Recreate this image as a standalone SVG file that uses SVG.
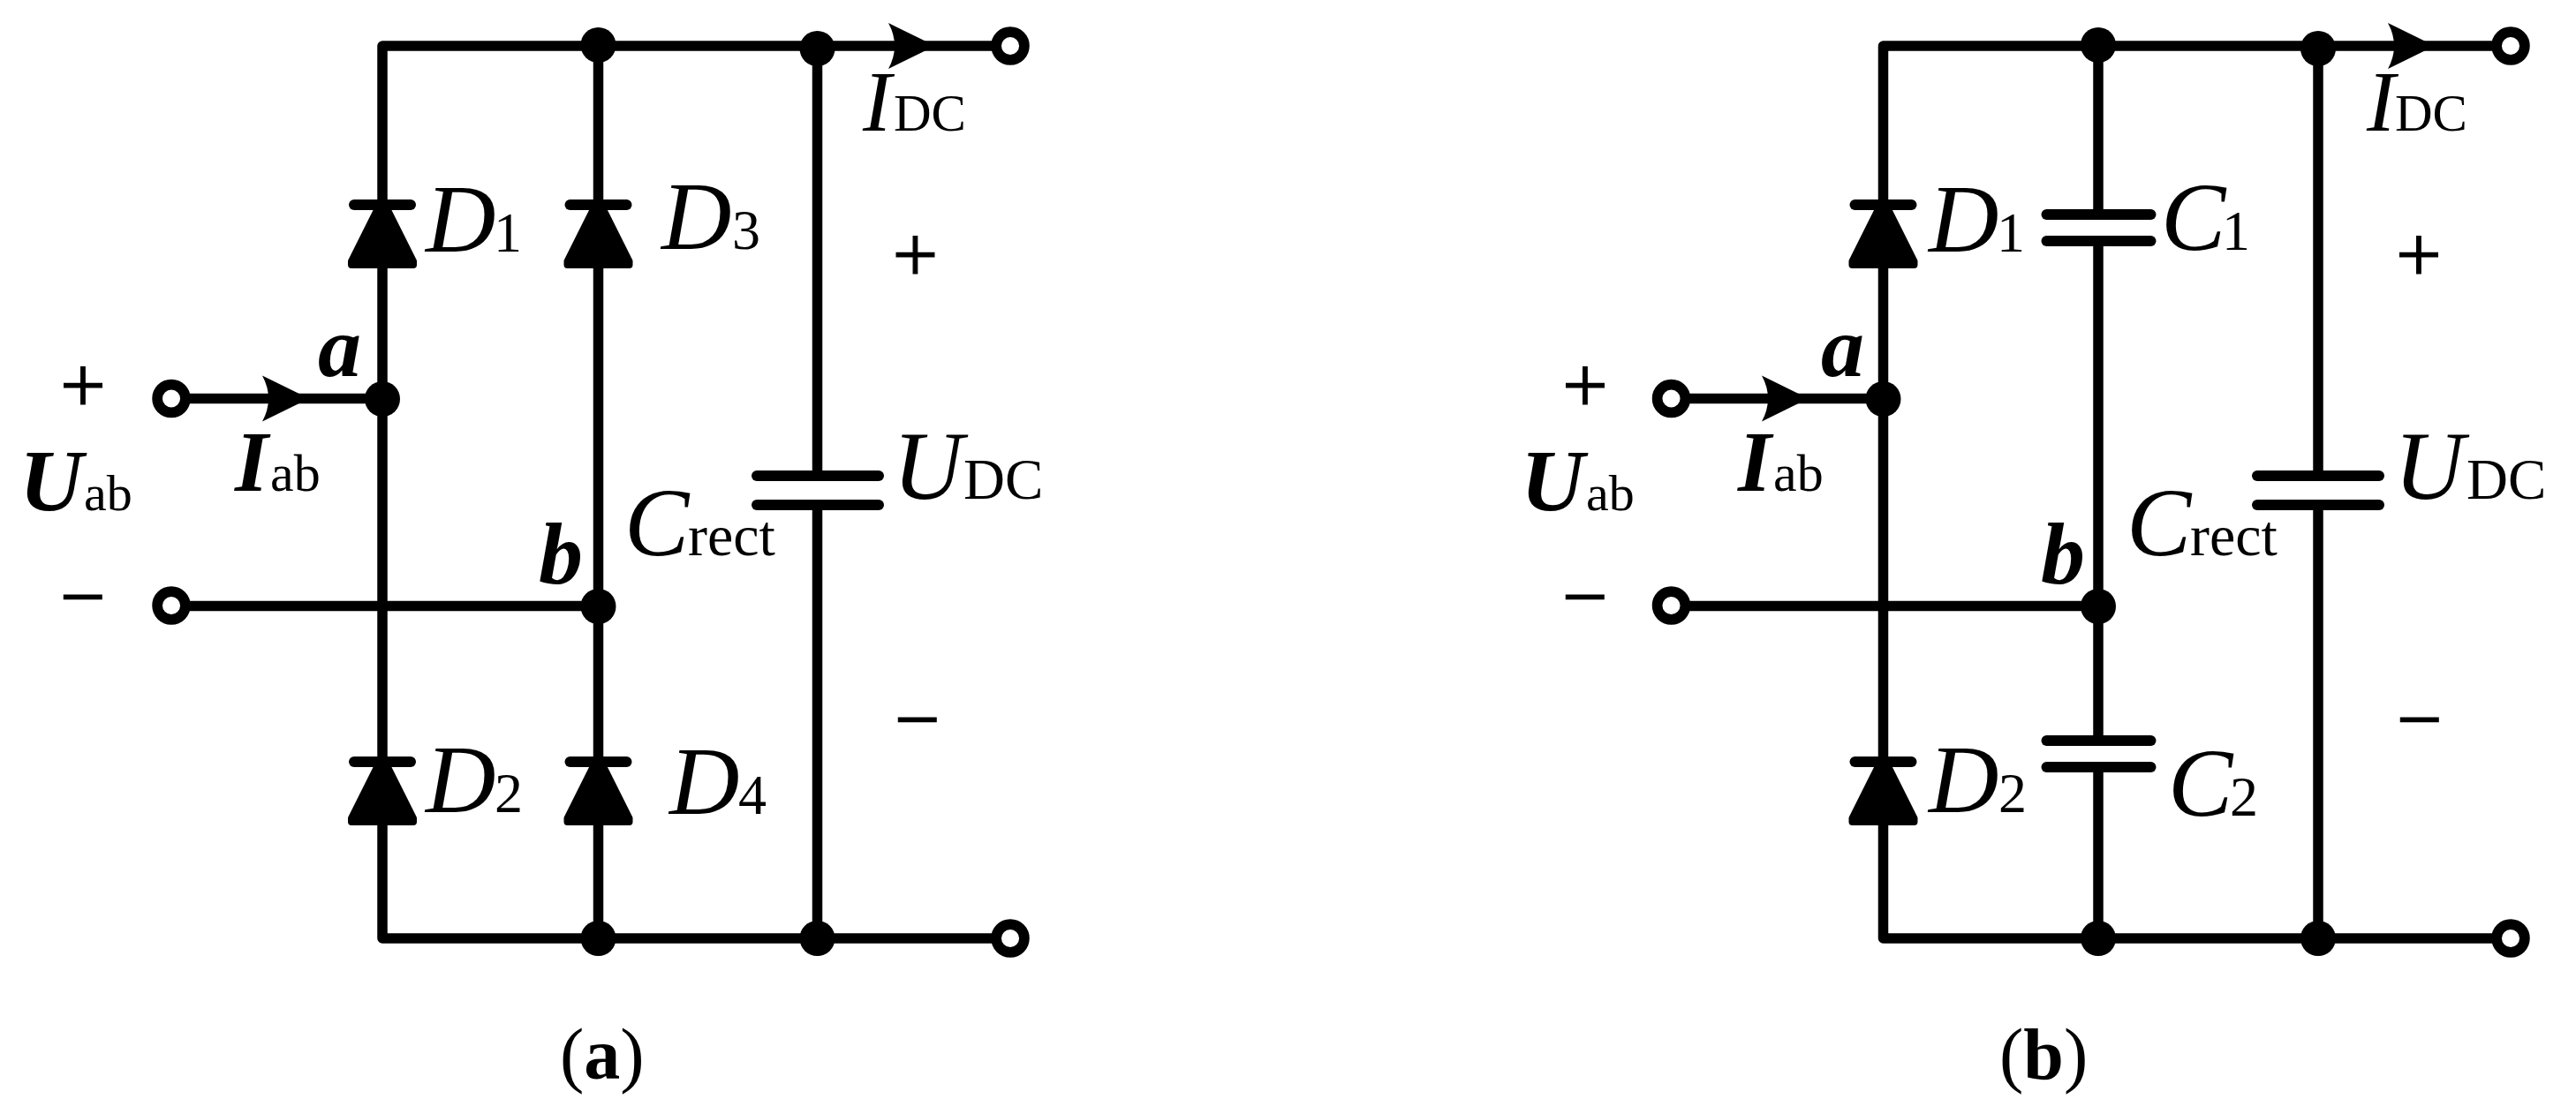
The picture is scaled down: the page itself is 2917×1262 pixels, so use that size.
<svg xmlns="http://www.w3.org/2000/svg" xmlns:xlink="http://www.w3.org/1999/xlink" width="2917" height="1262" viewBox="0 0 2917 1262">
<style>
.w{fill:none;stroke:#000;stroke-width:11.5;stroke-linejoin:round}
.t{font-family:"Liberation Serif","Times New Roman",serif;fill:#000}
.i{font-style:italic;font-size:110px}
.ib{font-style:italic;font-weight:bold}
.s{font-size:64px;font-style:normal}
.sg{font-size:92px;stroke:#000;stroke-width:1.2px}
.cap{font-size:82px}
.dot{fill:#000}
.term{fill:#fff;stroke:#000;stroke-width:11.7}
</style>
<defs>
<g id="diode"><rect x="-38" y="-6" width="76" height="12" rx="6" fill="#000"/><path d="M-6 6 L6 6 L35 64 V68 H-35 V64 Z" fill="#000" stroke="#000" stroke-width="8" stroke-linejoin="round"/></g>
<path id="arrow" d="M0 0 L-53 -26 Q-39 0 -53 26 Z" fill="#000"/>
<rect id="capbar" x="-75" y="-6" width="150" height="12" rx="6" fill="#000"/>
<rect id="capbar2" x="-65" y="-6" width="130" height="12" rx="6" fill="#000"/>
</defs>
<rect width="2917" height="1262" fill="#fff"/>
<g id="connectors">
<path class="w" d="M194 451.500H433M1144 1063H433V52H1144M194 686.500H677.500M677.500 52V1063M925.500 52V539M925.500 572V1063"/>
<use xlink:href="#arrow" href="#arrow" x="350" y="451.500"/>
<use xlink:href="#arrow" href="#arrow" x="1059" y="52"/>
<path class="w" d="M1892.500 451.500H2132.500M2843 1063H2132.500V52H2843M1892.500 686.500H2376M2376 52V243M2376 273V839M2376 869V1063M2625 52V539M2625 572V1063"/>
<use xlink:href="#arrow" href="#arrow" x="2048" y="451.500"/>
<use xlink:href="#arrow" href="#arrow" x="2757" y="52"/>
</g>
<g id="panel-a">
<g id="a-D1"><use xlink:href="#diode" href="#diode" x="433" y="232"/><text class="t i" x="482" y="285">D<tspan class="s" x="559">1</tspan></text></g>
<g id="a-D3"><use xlink:href="#diode" href="#diode" x="677.500" y="232"/><text class="t i" x="749" y="282">D<tspan class="s" x="829">3</tspan></text></g>
<g id="a-D2"><use xlink:href="#diode" href="#diode" x="433" y="863"/><text class="t i" x="482" y="920">D<tspan class="s" x="560">2</tspan></text></g>
<g id="a-D4"><use xlink:href="#diode" href="#diode" x="677.500" y="863"/><text class="t i" x="758" y="922">D<tspan class="s" x="836">4</tspan></text></g>
<g id="a-Crect"><use xlink:href="#capbar" href="#capbar" x="926" y="539"/><use xlink:href="#capbar" href="#capbar" x="926" y="572"/><text class="t i" x="707" y="629">C<tspan font-size="66" font-style="normal" x="779">rect</tspan></text></g>
<g id="a-junctions"><circle class="dot" cx="677.500" cy="51" r="20"/><circle class="dot" cx="925.500" cy="55" r="20"/><circle class="dot" cx="433" cy="452" r="20"/><circle class="dot" cx="677.500" cy="687" r="20"/><circle class="dot" cx="677.500" cy="1063" r="20"/><circle class="dot" cx="925.500" cy="1063" r="20"/></g>
<g id="a-terminals"><circle class="term" cx="194" cy="451.500" r="15.900"/><circle class="term" cx="194" cy="686" r="15.900"/><circle class="term" cx="1144" cy="52" r="15.900"/><circle class="term" cx="1144" cy="1063" r="15.900"/></g>
<g id="a-labels">
<text class="t" font-style="italic" font-size="97" x="977" y="148">I</text><text class="t" font-size="59" x="1012" y="148">DC</text>
<text class="t" font-style="italic" font-size="110" x="1011" y="565">U</text><text class="t" font-size="65" x="1091" y="565">DC</text>
<text class="t ib" font-size="100" x="22" y="578">U</text><text class="t" font-size="58" x="95" y="578">ab</text>
<text class="t ib" font-size="97" x="266" y="556">I</text><text class="t" font-size="60" x="306" y="556">ab</text>
<text class="t ib" font-size="98" x="360" y="426">a</text><text class="t ib" font-size="100" x="610" y="661">b</text>
<text class="t sg" text-anchor="middle" x="94" y="467">+</text><text class="t sg" text-anchor="middle" x="94" y="707">−</text>
<text class="t sg" text-anchor="middle" x="1036.500" y="319">+</text><text class="t sg" text-anchor="middle" x="1039" y="846">−</text>
<text class="t cap" x="634" y="1222">(<tspan font-weight="bold">a</tspan>)</text>
</g>
</g>
<g id="panel-b">
<g id="b-D1"><use xlink:href="#diode" href="#diode" x="2132.500" y="232"/><text class="t i" x="2184" y="285">D<tspan class="s" x="2261">1</tspan></text></g>
<g id="b-D2"><use xlink:href="#diode" href="#diode" x="2132.500" y="863"/><text class="t i" x="2184" y="920">D<tspan class="s" x="2263">2</tspan></text></g>
<g id="b-C1"><use xlink:href="#capbar2" href="#capbar2" x="2376.500" y="243"/><use xlink:href="#capbar2" href="#capbar2" x="2376.500" y="273"/><text class="t i" x="2447" y="283">C<tspan class="s" x="2516">1</tspan></text></g>
<g id="b-C2"><use xlink:href="#capbar2" href="#capbar2" x="2376.500" y="839"/><use xlink:href="#capbar2" href="#capbar2" x="2376.500" y="869"/><text class="t i" x="2455" y="924">C<tspan class="s" x="2525">2</tspan></text></g>
<g id="b-Crect"><use xlink:href="#capbar" href="#capbar" x="2625" y="539"/><use xlink:href="#capbar" href="#capbar" x="2625" y="572"/><text class="t i" x="2408" y="629">C<tspan font-size="66" font-style="normal" x="2480">rect</tspan></text></g>
<g id="b-junctions"><circle class="dot" cx="2376" cy="51" r="20"/><circle class="dot" cx="2625" cy="55" r="20"/><circle class="dot" cx="2132.500" cy="452" r="20"/><circle class="dot" cx="2376" cy="687" r="20"/><circle class="dot" cx="2376" cy="1063" r="20"/><circle class="dot" cx="2625" cy="1063" r="20"/></g>
<g id="b-terminals"><circle class="term" cx="1892.500" cy="451.500" r="15.900"/><circle class="term" cx="1892.500" cy="686" r="15.900"/><circle class="term" cx="2843" cy="52" r="15.900"/><circle class="term" cx="2843" cy="1063" r="15.900"/></g>
<g id="b-labels">
<text class="t" font-style="italic" font-size="97" x="2680" y="148">I</text><text class="t" font-size="59" x="2712" y="148">DC</text>
<text class="t" font-style="italic" font-size="110" x="2711" y="565">U</text><text class="t" font-size="65" x="2793" y="565">DC</text>
<text class="t ib" font-size="100" x="1722" y="578">U</text><text class="t" font-size="58" x="1796" y="578">ab</text>
<text class="t ib" font-size="97" x="1968" y="556">I</text><text class="t" font-size="60" x="2008" y="556">ab</text>
<text class="t ib" font-size="98" x="2062" y="426">a</text><text class="t ib" font-size="100" x="2311" y="661">b</text>
<text class="t sg" text-anchor="middle" x="1795" y="467">+</text><text class="t sg" text-anchor="middle" x="1795" y="707">−</text>
<text class="t sg" text-anchor="middle" x="2739" y="319">+</text><text class="t sg" text-anchor="middle" x="2740" y="846">−</text>
<text class="t cap" x="2264" y="1222">(<tspan font-weight="bold">b</tspan>)</text>
</g>
</g>
</svg>
